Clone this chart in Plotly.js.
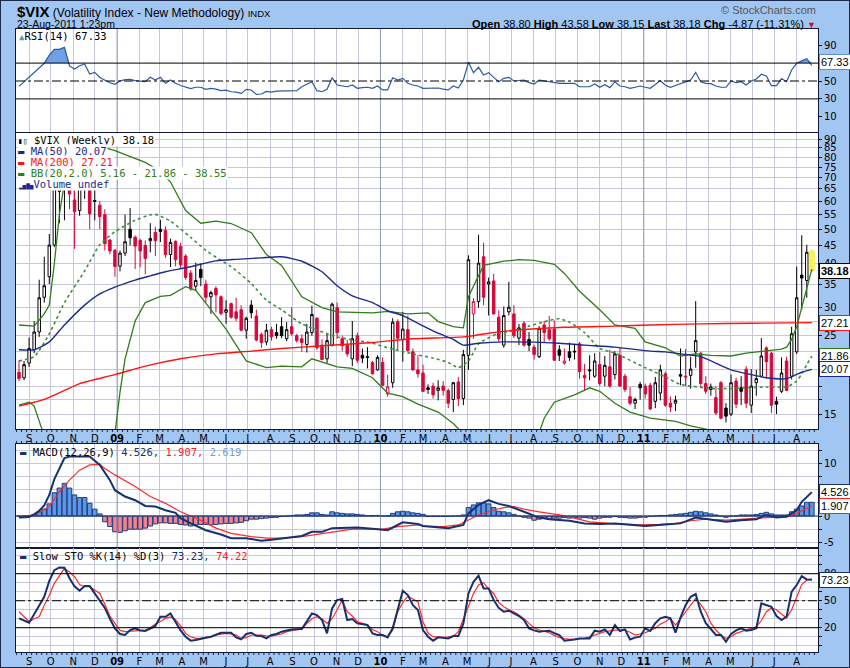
<!DOCTYPE html>
<html><head><meta charset="utf-8">
<script src="https://cdn.plot.ly/plotly-3.0.1.min.js"></script>
<style>html,body{margin:0;padding:0;background:#a2c6f2;}#chart{width:850px;height:668px;}</style>
</head><body><div id="chart"></div>
<script>
// ---------- DATA (weekly bars, first bar = week of 2008-08-18) ----------
const firstWeek = [2008, 7, 18];
const opens = [19.7,19.0,20.9,22.8,25.6,32.1,36.7,45.1,64.0,68.0,
77.0,60.5,56.5,65.0,72.0,60.3,58.5,55.0,46.6,43.6,
39.3,42.8,50.0,47.5,46.5,45.0,46.4,49.0,50.0,49.7,
42.4,46.2,44.7,42.0,37.6,34.5,38.5,35.0,32.2,34.0,
32.2,29.1,30.8,29.2,29.6,25.9,30.5,28.4,25.2,24.0,
26.0,25.5,26.5,24.5,26.5,25.0,24.5,23.6,25.5,28.0,
23.5,21.5,23.5,30.0,24.5,23.5,21.5,25.0,22.0,21.8,
21.0,20.0,21.0,17.1,18.4,27.4,24.4,26.0,22.5,20.0,
19.6,17.8,18.0,17.5,18.0,17.5,16.5,18.5,16.6,22.0,
28.8,31.2,41.8,35.0,35.7,28.2,23.5,29.2,28.8,24.6,
27.1,24.4,23.2,21.8,26.8,26.0,26.1,22.8,20.9,22.5,
22.6,23.7,19.3,20.0,19.2,20.7,19.2,20.4,19.4,22.0,
19.2,16.8,16.1,18.2,18.0,18.1,16.3,17.2,19.5,16.1,
16.1,19.4,19.2,19.3,22.5,22.3,18.3,17.6,16.7,18.4,
15.6,15.0,18.6,17.8,20.1,15.9,18.4,19.2,23.1,22.3,
16.3,17.4,21.2,19.2,22.5,37.1,35.8,38.80];
const highs = [21.3,21.2,24.7,27.5,36.0,41.8,48.5,76.9,81.2,89.5,
86.0,66.0,68.4,81.5,73.0,68.0,60.0,57.0,47.0,44.0,
43.5,55.0,57.4,48.0,47.0,46.5,52.0,50.8,53.2,51.0,
47.0,46.5,45.8,42.5,38.3,40.2,40.0,36.0,33.5,34.5,
32.5,31.5,31.0,32.0,30.5,28.3,31.5,29.6,25.5,27.0,
26.5,27.0,28.2,27.3,30.1,25.3,25.2,27.0,30.4,28.2,
24.4,25.3,31.0,31.0,25.0,24.3,27.5,25.5,23.0,23.2,
21.2,22.0,21.7,19.4,28.0,27.8,29.2,28.5,23.0,22.0,
20.7,18.2,18.4,18.7,18.6,17.7,18.5,19.1,22.8,42.2,
31.9,48.2,45.8,36.5,37.4,29.5,30.2,35.5,30.5,27.0,
27.5,25.6,23.6,26.6,27.5,28.4,27.6,23.5,23.0,23.9,
23.6,24.0,20.8,22.0,22.3,22.5,21.9,22.8,22.6,23.2,
19.5,17.9,16.7,18.5,18.3,18.4,19.1,20.7,19.8,16.8,
16.9,23.0,22.9,21.8,31.3,22.5,19.2,18.3,18.0,18.6,
16.1,19.4,19.0,19.2,20.5,20.1,20.0,24.6,23.3,22.5,
16.8,21.7,21.8,26.5,39.2,48.1,45.2,43.58];
const lows = [18.6,18.7,20.4,22.3,24.8,31.0,35.0,44.5,52.0,53.0,
57.0,44.0,54.6,61.0,50.0,53.0,50.0,43.5,42.5,36.7,
38.0,42.0,45.0,38.6,39.0,37.3,43.0,42.0,46.0,41.5,
39.1,39.3,38.6,36.0,33.5,33.5,34.5,31.0,28.8,29.1,
28.5,27.0,27.9,27.5,25.7,24.5,28.0,24.1,23.1,23.5,
24.2,24.5,24.6,24.1,25.0,23.9,22.5,22.4,25.0,22.8,
21.3,20.9,23.3,24.5,22.6,21.8,20.5,20.9,20.9,20.2,
19.4,19.9,18.0,16.8,17.8,22.8,21.1,22.5,19.9,19.0,
17.3,17.1,16.6,16.4,16.9,15.6,15.2,15.8,15.9,20.0,
24.5,30.0,30.5,28.5,28.7,24.0,23.1,28.5,24.6,23.5,
23.3,22.6,21.4,21.6,23.9,24.2,21.2,21.2,20.7,21.2,
21.4,18.9,17.5,18.7,19.0,18.0,18.0,17.8,18.8,17.9,
17.3,15.9,15.5,16.5,16.6,15.4,15.6,16.4,15.7,15.2,
15.3,18.1,18.0,17.7,20.3,17.9,17.1,16.9,14.9,14.5,
14.2,14.8,15.6,15.9,15.6,15.1,16.9,19.0,18.9,15.1,
15.0,17.2,17.4,18.8,22.2,29.6,32.0,38.15];
const closes = [18.9,20.7,23.0,25.6,32.0,34.6,45.1,69.9,70.3,79.1,
62.9,56.1,66.3,72.7,55.3,59.9,54.3,45.5,43.4,39.2,
42.8,46.1,47.3,44.8,43.4,41.3,47.1,46.4,49.3,42.4,
45.9,41.0,39.7,36.5,33.9,35.8,36.5,32.1,33.1,32.6,
28.9,29.6,28.2,28.0,25.9,28.0,29.0,24.3,23.9,25.9,
24.8,25.0,25.0,26.0,25.3,24.2,23.9,25.6,28.7,23.1,
21.4,24.2,30.7,25.5,23.4,22.2,24.5,21.3,21.6,21.7,
19.5,21.7,18.1,17.9,27.3,24.6,26.1,22.7,20.0,19.5,
17.4,17.6,17.0,17.8,17.5,16.1,18.4,16.6,22.1,41.0,
31.2,40.1,32.1,35.5,28.8,24.5,28.5,30.1,25.0,26.3,
23.5,23.5,22.1,26.2,25.5,24.5,21.3,22.0,21.2,21.7,
22.5,19.8,19.0,19.9,21.2,18.3,20.6,18.0,22.2,18.0,
17.6,16.1,16.5,17.8,17.1,15.5,18.4,20.0,15.9,15.7,
16.4,19.2,19.1,20.1,24.2,18.3,17.4,17.9,15.1,14.6,
14.8,18.4,16.0,17.4,16.1,18.0,18.9,21.9,21.1,15.9,
16.0,19.6,17.5,25.3,32.0,36.4,43.05,38.18];

// overlays: [week index, value]
const ma50Weeks = [0,3,6,9,13,16,19,23,26,29,33,36,39,43,48,52,56,60,63,66,70,73,76,79,83,86,88,91,96,107,112,118,125,128,131,135,141,145,148,152,155,157];
const ma50 = [22.8,22.8,24.0,26.8,30.5,32.8,34.3,35.9,36.9,37.9,38.9,39.8,40.7,41.1,41.5,41.8,40.6,37.9,34.6,32.4,31.0,29.4,28.5,27.1,25.4,24.4,23.5,23.8,24.0,23.8,23.5,23.2,22.6,22.5,22.2,21.8,20.0,19.4,19.0,18.9,19.7,20.07];
const ma200Weeks = [0,5,9,12,19,25,32,39,46,52,60,70,78,88,93,98,108,118,125,135,145,157];
const ma200 = [15.8,16.5,17.5,18.3,19.4,20.5,21.5,22.2,22.6,23.0,23.4,23.9,24.5,24.8,25.4,25.9,26.4,26.6,26.8,27.0,27.1,27.21];
const bbUpWeeks = [0,3,5,6,7,8,9,10,12,14,19,25,28,30,33,36,39,42,46,49,52,54,56,60,63,70,73,77,81,83,86,88,89,92,96,99,102,106,108,111,115,118,122,124,128,131,134,137,141,144,148,151,152,153,154,155,156,157];
const bbUp = [26.8,26.6,28.8,30.5,40,55,68,78,86,87.5,83.5,77.3,73,68,56.5,52,52.7,51.9,48.9,42.4,39.5,35.5,32.2,30.0,29.2,29.0,29.3,28.8,29.0,27.4,26.5,26.3,32.2,39.5,40.6,41.0,40.8,39.8,37.5,33.4,29.6,26.8,26.2,24.0,23.1,21.9,22.2,22.0,21.9,22.3,22.7,22.9,23.2,24.4,26.5,30.0,34.0,38.55];
const bbMidWeeks = [0,3,6,9,13,16,19,23,26,27,30,34,37,40,42,46,49,52,56,63,70,73,78,82,85,87,89,91,95,98,101,105,107,109,112,115,118,124,128,131,138,144,148,152,154,155,156,157];
const bbMid = [21.2,21.8,25.3,31.0,38.1,45.2,49.2,53.0,54.9,55.1,52.7,47.4,43.6,40.8,39.2,35.1,31.5,29.6,27.0,24.8,23.8,23.1,22.2,21.6,21.0,20.3,21.2,23.7,25.4,25.8,26.6,27.6,27.9,27.3,25.5,23.0,22.3,20.3,19.1,18.2,17.7,17.8,17.9,17.9,18.6,19.5,20.7,21.86];
const bbLowWeeks = [0,2,3,5,6,9,13,17,19,20,21,23,25,28,30,33,35,37,39,41,45,49,52,56,58,63,66,70,73,76,79,83,86,88,92,97,101,103,104,106,110,113,115,118,121,125,130,133,138,142,147,152,157];
const bbLow = [15.9,16.2,15.8,13.0,10.5,6,3.5,6,13.2,17.3,21.5,27.5,31.0,32.3,32.5,34.4,33.6,30.9,28.5,26.1,21.2,20.3,20.5,20.4,21.5,20.4,20.2,19.0,17.2,16.8,16.0,15.2,14.1,13.2,11,9,11,13.2,14.6,16.2,17.0,17.8,17.4,16.1,15.2,14.6,14.3,13.9,13.4,12,11,9,5.16];

// RSI(14), one value per week
const rsi = [44,49,54,60,65,69.8,79,85.4,85.4,87.6,
66.8,63.4,67,69,57.8,59.7,54,51.1,48,46.3,
50,51.5,51.9,50.4,49.5,49.2,54.1,51.1,54.1,47.4,
51.1,47.4,45,43,41.5,43,43,40.7,41.8,41.0,
39.2,39.8,38.0,37.5,36.2,40.7,40.0,35.1,35.5,38.4,
37.5,38.7,39,39.2,39.2,39.2,43.6,46,49.2,39.2,
38.0,40.7,53.7,45.5,44.5,43.6,45.5,41.8,42.5,43.0,
41.8,44.4,40.0,40.0,53.7,51.1,53.0,47.4,45.5,44.4,
41.8,42,42,42.2,41,40.0,44.4,42.2,51.1,70.9,
59.3,65.3,56.7,59.3,54.1,49.2,53.0,54.1,50,50.5,
51.1,48.1,46.6,51.1,50,49.2,48,47.4,47.4,47.4,
47.4,43.6,43.6,43.6,46.6,43.0,45.9,42.6,49.2,44.4,
43.6,41.8,43,44.4,43,41.8,46,50.4,45.2,43.0,
45,47.4,49,51.1,59.7,49.2,47.4,47,44.4,43.0,
43,50,48.1,49.2,45.5,50,52.2,57.5,55.6,44.8,
44.8,52.6,49.2,62.3,69.8,72.5,75.0,67.33];

// MACD(12,26,9)
const macdWeeks = [0,2,3,4,5,6,7,8,9,10,12,14,16,18,19,21,23,25,27,29,31,32,34,37,40,42,45,48,50,53,56,58,60,62,65,67,70,73,76,79,80,83,85,88,89,91,93,95,97,100,103,105,109,112,115,118,121,124,128,131,134,136,140,143,146,148,150,152,154,155,157];
const macdLine = [-0.3,-0.2,0.3,1.0,2.0,4.0,7.0,9.0,11.0,11.3,11.3,11.3,9.7,6.8,4.9,3.7,3.0,1.9,1.8,1.1,0.6,-0.4,-1.4,-2.7,-3.5,-4.2,-4.2,-4.7,-4.5,-4.2,-3.8,-3.0,-3.0,-2.3,-2.3,-2.2,-2.4,-2.7,-1.2,-1.5,-1.9,-2.1,-2.3,-1.7,0.5,2.1,3.0,2.3,1.9,0.8,-0.3,-0.6,-0.9,-1.4,-1.5,-1.4,-1.7,-1.9,-1.6,-1.4,-0.3,-0.6,-1.1,-0.8,-0.6,0.2,-0.3,-0.1,1.1,2.7,4.526];
const signalWeeks = [0,3,6,8,10,12,14,16,17,19,23,26,29,32,36,39,42,46,49,52,56,59,62,66,69,72,75,79,80,84,87,89,91,94,96,98,100,103,107,110,113,117,120,123,127,130,133,136,140,143,146,150,152,154,157];
const signalLine = [-0.2,0.2,1.8,4.6,6.8,8.7,9.7,9.8,9.0,7.8,5.6,3.7,2.4,0.8,-0.8,-2.3,-3.3,-3.9,-4.2,-4.2,-3.9,-3.5,-3.0,-2.5,-2.5,-2.5,-2.0,-1.7,-1.9,-2.0,-1.7,-0.8,0.2,1.1,1.6,1.8,1.3,0.8,0.2,-0.4,-1.1,-1.4,-1.5,-1.7,-1.6,-1.4,-0.9,-0.6,-0.8,-0.6,-0.4,-0.2,-0.2,0.5,1.907];
const macdHist = [0,0,0.1,0.3,0.8,1.3,2.3,4.4,5.3,6.2,
5.3,4.0,3.5,3.5,2.4,1.3,0.4,-1.1,-2.0,-3.0,
-3.1,-2.8,-2.5,-2.5,-2.5,-2.3,-1.9,-1.5,-1.3,-1.3,
-1.4,-1.4,-1.6,-1.7,-1.9,-1.7,-1.6,-1.6,-1.7,-1.6,
-1.5,-1.4,-1.4,-1.3,-1.2,-0.9,-0.6,-0.6,-0.5,-0.4,
-0.3,-0.25,-0.1,0,0.1,0.2,0.2,0.3,0.6,0.6,
0.3,0.2,0.8,0.6,0.5,0.4,0.4,0.3,0.2,0.05,
0.1,0.1,0,0.05,0.5,0.8,0.9,0.8,0.6,0.5,
0.3,-0.1,-0.1,-0.1,-0.1,-0.1,0,0,0.2,1.6,
2.1,2.5,2.5,2.3,1.6,0.9,0.8,0.6,0.3,0,
-0.25,-0.4,-0.8,-0.6,-0.4,-0.6,-0.4,-0.4,-0.3,-0.4,
-0.3,-0.4,-0.3,-0.4,-0.6,-0.4,-0.25,-0.25,-0.1,-0.25,
-0.3,-0.4,-0.4,-0.25,-0.25,-0.1,0,0.1,0.1,0.2,
0.3,0.4,0.5,0.7,0.9,0.8,0.6,0.4,0.2,0,
-0.25,0,0,0.2,0.2,0.2,0.3,0.5,0.7,0.4,
0.2,0.2,0.2,0.8,1.3,1.9,2.6,2.6];

// Slow Stochastic %K(14) %D(3)
const stoK = [30.4,28,25.6,35,45,54.4,72,84,87,86.7,
75,66,61.1,66.3,66.3,58,50,42,30,19.3,
13,11.9,17.4,19.3,17,16.3,19,22,32.2,32.2,
35.9,26.7,17,10,5.6,6.3,8,8.9,10,12,
14.4,14.4,14.4,9.3,7.0,13,14.4,11,10.7,8.1,
12,13,15.6,17,18.1,18.3,18.5,27,35.9,34.1,
28.5,13.7,41.5,50.7,51.9,28.5,29.6,24.8,24,23,
13.7,12,11.9,9.3,19.3,40,61.1,56.3,45,39.6,
17.4,10,5.6,9.3,8.5,8.1,10.7,10.7,24.8,58.1,
71.1,77.8,63.7,63.7,50.7,42,37.8,38.9,36,33,
28.5,19.3,17,15.6,16.2,16.7,14,11.9,5.6,6,
7,8,8.1,8.1,16.7,15.6,18.1,11.9,23,16.3,
18.1,7,9,10,19.3,16.3,25,30.4,32.2,30.4,
14.4,31.5,45,54.4,57.4,37.8,25,18.1,12,11.9,
4.4,13,17,19.3,16.7,17.5,19.3,47,45,43.3,
33,28.5,32.2,60,67.4,77.4,73.7,73.23];
const stoD = [37.8,32,26.7,30,32.2,45,56,69.3,78,85.9,
82,76.7,68,65.6,65.6,62,58.1,46,33,24.8,
17,15.6,16,16.7,17.5,17.4,20,24.1,27,30.4,
32,29,22,13.7,10,8.1,8.5,9.3,10,11.9,
12.5,13.7,13,11.9,8.1,9,11.9,12,11.9,11,
10.7,12,13,15.6,16.5,17.4,19,24.8,30,32.2,
30,24.8,30,40,50.7,37.8,33,26.7,24.5,23,
18,15.6,12,10,17.4,37.8,48,55.3,52,48.9,
26.7,14,10,9.5,9.3,9.8,10.7,15.6,30,43.3,
58,67.4,70,63,58.1,48,43.3,40,37.8,34.1,
30,24.8,20,17.4,16,14.4,11.5,9.3,8,7,
7.2,7.6,8.1,10,11.9,13.7,15.6,16.5,17.4,17.4,
17.4,15,11.9,13,14.4,17,19.3,24,26.7,30.4,
23,30,37.8,46,52.6,46,37.8,25,17.4,12,
8.1,10,13.7,15.6,17.4,19,21.1,28,37.8,42,
40,35,31,40,53,68,73,74.22];

const monthLetters = ['09','F','M','A','M','J','J','A','S','O','N','D'];
const yearStarts = ['2009-01-01', '2010-01-01', '2011-01-01'];
const rsiTicks = [10, 30, 50, 90];

// ---------- helpers ----------
const DAY = 86400000;
const t0 = Date.UTC(firstWeek[0], firstWeek[1], firstWeek[2]);
const wk = i => new Date(t0 + i * 7 * DAY).toISOString().slice(0, 19).replace('T', ' ');
const n = closes.length;
const dates = closes.map((_, i) => wk(i));
const last = n - 1;
const W = 850, H = 668;
const px = x => x / W, py = y => 1 - y / H;

const RED = '#d6083b', NAVY = '#17306e', MA50C = '#1a2a8c', MA200C = '#ff1212', BBC = '#2f7d1a', GRID = '#c6c8da', YEAR = '#929cb8', BORDER = '#10183a';
const MONO = 'DejaVu Sans Mono', SANS = 'DejaVu Sans', ARIAL = 'Liberation Sans, Arial';

const R = {y: [13.61, 93.6], y2: [-6.98, 108.1], y3: [-6.07, 13.66], y4: [-7.0, 108.6]};
const DOM = {y: [429, 133], y2: [132, 29], y3: [548, 444], y4: [652, 548]};

const groups = {hb: [], hr: [], fb: [], fr: []};
for (let i = 0; i < n; i++) {
  const pc = i ? closes[i - 1] : opens[i];
  const key = (closes[i] > opens[i] ? 'h' : 'f') + (closes[i] < pc ? 'r' : 'b');
  groups[key].push(i);
}
function candle(idx, lc, fc) {
  const st = {line: {color: lc, width: 1}, fillcolor: fc};
  return {type: 'candlestick', xaxis: 'x', yaxis: 'y', x: idx.map(i => dates[i]),
    open: idx.map(i => opens[i]), high: idx.map(i => highs[i]), low: idx.map(i => lows[i]), close: idx.map(i => closes[i]),
    increasing: st, decreasing: st, whiskerwidth: 0, hoverinfo: 'skip', showlegend: false};
}
function line(ws, vs, xa, ya, color, width, dash, shape) {
  return {type: 'scatter', mode: 'lines', x: ws.map(wk), y: vs, xaxis: xa, yaxis: ya,
    line: {color: color, width: width, dash: dash || 'solid', shape: shape || 'linear', smoothing: 0.6}, hoverinfo: 'skip', showlegend: false};
}
const allWeeks = closes.map((_, i) => i);

const traces = [];
[['x', 'y'], ['x2', 'y2'], ['x3', 'y3'], ['x4', 'y4']].forEach(([xa, ya]) => {
  yearStarts.forEach(d => traces.push({type: 'scatter', mode: 'lines', x: [d, d], y: R[ya], xaxis: xa, yaxis: ya,
    line: {color: YEAR, width: 1}, hoverinfo: 'skip', showlegend: false}));
});
traces.push({type: 'scatter', mode: 'lines', xaxis: 'x', yaxis: 'y',
  x: [wk(last - 0.6), wk(last + 0.6), wk(last + 0.6), wk(last - 0.6), wk(last - 0.6)],
  y: [lows[last], lows[last], highs[last], highs[last], lows[last]],
  fill: 'toself', fillcolor: '#f6f35a', line: {width: 0}, hoverinfo: 'skip', showlegend: false});
traces.push(
  candle(groups.hb, '#000', '#fff'),
  candle(groups.hr, RED, '#fff'),
  candle(groups.fb, '#000', '#000'),
  candle(groups.fr, RED, RED),
  line(bbUpWeeks, bbUp, 'x', 'y', BBC, 1.3),
  line(bbLowWeeks, bbLow, 'x', 'y', BBC, 1.3),
  line(bbMidWeeks, bbMid, 'x', 'y', '#3d8f3d', 1.6, 'dot', 'spline'),
  line(ma200Weeks, ma200, 'x', 'y', MA200C, 1.4, 'solid', 'spline'),
  line(ma50Weeks, ma50, 'x', 'y', MA50C, 1.4, 'solid', 'spline'),
  {type: 'scatter', mode: 'lines', x: allWeeks.map(wk), y: rsi.map(() => 70), xaxis: 'x2', yaxis: 'y2', line: {width: 0}, hoverinfo: 'skip', showlegend: false},
  {type: 'scatter', mode: 'lines', x: allWeeks.map(wk), y: rsi.map(v => Math.max(v, 70)), xaxis: 'x2', yaxis: 'y2', line: {width: 0}, fill: 'tonexty', fillcolor: '#6f9fe4', hoverinfo: 'skip', showlegend: false},
  line(allWeeks, rsi, 'x2', 'y2', '#2b5aa0', 1.2),
  {type: 'bar', x: dates, y: macdHist, xaxis: 'x3', yaxis: 'y3', width: 7 * DAY * 0.9,
    marker: {color: macdHist.map(v => v >= 0 ? '#5b97e6' : '#f4828f'), line: {color: '#1e3c7c', width: 1}}, hoverinfo: 'skip', showlegend: false},
  line(signalWeeks, signalLine, 'x3', 'y3', '#ff2a2a', 1.2),
  line(macdWeeks, macdLine, 'x3', 'y3', NAVY, 2),
  line(allWeeks, stoD, 'x4', 'y4', '#ff2a2a', 1.2),
  line(allWeeks, stoK, 'x4', 'y4', NAVY, 2)
);

const monthVals = [], monthText = [];
for (let y = 2008; y <= 2011; y++) for (let m = 0; m < 12; m++) {
  const t = Date.UTC(y, m, 1);
  if (t < Date.UTC(2008, 8, 1) || t > Date.UTC(2011, 7, 1)) continue;
  monthVals.push(new Date(t).toISOString().slice(0, 10));
  monthText.push(m === 0 ? '<b>' + String(y).slice(2) + '</b>' : monthLetters[m]);
}

const xRange = [wk(-0.594), wk(158.22)];
const xDom = [px(16), px(818)];
const xBase = {type: 'date', range: xRange, domain: xDom, tickmode: 'array', tickvals: monthVals, ticktext: monthText,
  showgrid: true, gridcolor: GRID, gridwidth: 1, showline: true, linecolor: BORDER, linewidth: 1, mirror: true,
  ticks: '', zeroline: false, fixedrange: true, rangeslider: {visible: false},
  tickfont: {family: SANS, size: 10, color: '#000'}};
const yBase = {side: 'right', showline: true, linecolor: BORDER, linewidth: 1, mirror: true, ticks: 'outside', ticklen: 3,
  tickcolor: '#111', zeroline: false, fixedrange: true, tickfont: {family: SANS, size: 10, color: '#000'}, gridcolor: GRID};

const mainGrid = [15, 16.5, 18, 20, 22.5, 25, 27.5, 30, 35, 40, 45, 50, 55, 60, 65, 70, 75, 80, 85, 90];
const mainLab = mainGrid.map(v => (v % 5 === 0 && v !== 20) ? String(v) : '');
const macdGrid = [-5, -2.5, 0, 2.5, 5, 7.5, 10, 12.5];
const macdLab = macdGrid.map(v => v % 5 === 0 ? String(v) : '');
const stoGrid = [0, 10, 20, 30, 40, 50, 60, 70, 80, 90, 100];
const stoLab = stoGrid.map(v => [20, 50, 80].includes(v) ? String(v) : '');

const layout = {
  width: W, height: H, margin: {l: 0, r: 0, t: 0, b: 0},
  paper_bgcolor: '#a2c6f2', plot_bgcolor: '#ffffff', showlegend: false,
  xaxis: Object.assign({}, xBase, {anchor: 'y', showticklabels: true}),
  xaxis2: Object.assign({}, xBase, {anchor: 'y2', showticklabels: false}),
  xaxis3: Object.assign({}, xBase, {anchor: 'y3', showticklabels: false}),
  xaxis4: Object.assign({}, xBase, {anchor: 'y4', showticklabels: true}),
  yaxis: Object.assign({}, yBase, {type: 'log', domain: [py(DOM.y[0]), py(DOM.y[1])], anchor: 'x', range: R.y.map(Math.log10),
    tickmode: 'array', tickvals: mainGrid, ticktext: mainLab, showgrid: true}),
  yaxis2: Object.assign({}, yBase, {domain: [py(DOM.y2[0]), py(DOM.y2[1])], anchor: 'x2', range: R.y2, tickmode: 'array', tickvals: rsiTicks, ticktext: rsiTicks.map(String), showgrid: false}),
  yaxis3: Object.assign({}, yBase, {domain: [py(DOM.y3[0]), py(DOM.y3[1])], anchor: 'x3', range: R.y3, tickmode: 'array', tickvals: macdGrid, ticktext: macdLab, showgrid: true}),
  yaxis4: Object.assign({}, yBase, {domain: [py(DOM.y4[0]), py(DOM.y4[1])], anchor: 'x4', range: R.y4, tickmode: 'array', tickvals: stoGrid, ticktext: stoLab, showgrid: true}),
  shapes: [], annotations: []
};

function hline(ya, v, dash) {
  layout.shapes.push({type: 'line', xref: 'paper', yref: ya, x0: xDom[0], x1: xDom[1], y0: v, y1: v, layer: 'above',
    line: {color: '#000', width: 1, dash: dash || 'solid'}});
}
hline('y2', 70); hline('y2', 30); hline('y2', 50, 'dashdot');
hline('y4', 80); hline('y4', 20); hline('y4', 50, 'dashdot');
layout.shapes.push({type: 'line', xref: 'paper', yref: 'y3', x0: xDom[0], x1: xDom[1], y0: 0, y1: 0, layer: 'above', line: {color: '#1e3c7c', width: 1}});
function weekTicks(yTop, len) {
  for (let i = -0.5; i < 158.2; i += 1) {
    const xx = new Date(t0 + i * 7 * DAY).toISOString();
    layout.shapes.push({type: 'line', xref: 'x', yref: 'paper', x0: xx, x1: xx, y0: py(yTop), y1: py(yTop + len), line: {color: '#1a2550', width: 1}});
  }
}
weekTicks(430, 2); weekTicks(441, 2.5); weekTicks(653, 2);
layout.shapes.push({type: 'rect', xref: 'paper', yref: 'paper', x0: 0, x1: 1, y0: 0, y1: 1, line: {color: '#1b2a4a', width: 2}});

// ---------- text ----------
const A = layout.annotations;
function txt(x, y, text, opts) {
  A.push(Object.assign({xref: 'paper', yref: 'paper', x: px(x), y: py(y), text: text, showarrow: false, xanchor: 'left', yanchor: 'middle',
    font: {family: ARIAL, size: 11, color: '#000'}, borderpad: 0}, opts || {}));
}
const chg = closes[last] - closes[last - 1];
const chgPct = chg / closes[last - 1] * 100;
txt(16, 11, "<span style='font-size:15px;font-weight:bold'>$VIX</span> (Volatility Index - New Methodology) <span style='font-size:9.5px'>INDX</span>", {font: {family: ARIAL, size: 12, color: '#000'}});
txt(16, 24, '23-Aug-2011 1:23pm', {font: {family: ARIAL, size: 10.5, color: '#000'}});
txt(817, 10, '© StockCharts.com', {xanchor: 'right', font: {family: ARIAL, size: 11, color: '#555'}});
txt(817, 24, '<b>Open</b> ' + opens[last].toFixed(2) + ' <b>High</b> ' + highs[last].toFixed(2) + ' <b>Low</b> ' + lows[last].toFixed(2) +
  ' <b>Last</b> ' + closes[last].toFixed(2) + ' <b>Chg</b> ' + chg.toFixed(2) + ' (' + chgPct.toFixed(2) + '%) <span style="color:#c8102e;font-size:9px">▼</span>',
  {xanchor: 'right', font: {family: ARIAL, size: 11, color: '#000'}});

const legFont = c => ({family: MONO, size: 10.5, color: c || '#000'});
txt(18, 36.5, "<span style='color:#5b8fd8;font-size:9px'>▲</span>RSI(14) " + rsi[last].toFixed(2), {font: legFont()});
const lg = {bgcolor: '#ffffff'};
txt(17, 140, "<span style='font-size:8px'>▮▯</span> $VIX (Weekly) " + closes[last].toFixed(2), Object.assign({font: legFont()}, lg));
txt(17, 151.3, '▬ MA(50) ' + ma50[ma50.length - 1].toFixed(2), Object.assign({font: legFont(MA50C)}, lg));
txt(17, 162.3, '▬ MA(200) ' + ma200[ma200.length - 1].toFixed(2), Object.assign({font: legFont(MA200C)}, lg));
txt(17, 173.3, '▬ BB(20,2.0) ' + bbLow[bbLow.length - 1].toFixed(2) + ' - ' + bbMid[bbMid.length - 1].toFixed(2) + ' - ' + bbUp[bbUp.length - 1].toFixed(2), Object.assign({font: legFont(BBC)}, lg));
txt(17, 184, '<span style="font-size:6px">▂▅▇▅</span>Volume undef', Object.assign({font: legFont('#1a2a8c')}, lg));
const mLast = macdLine[macdLine.length - 1], sLast = signalLine[signalLine.length - 1];
txt(19, 451.7, "<span style='color:" + NAVY + "'>▬</span> MACD(12,26,9) <span style='color:" + NAVY + "'>" + mLast.toFixed(3) + ",</span> <span style='color:#ff2020'>" + sLast.toFixed(3) + ",</span> <span style='color:#6fa0e8'>" + (mLast - sLast).toFixed(3) + "</span>", {font: legFont()});
txt(19, 555.7, "<span style='color:" + NAVY + "'>▬</span> Slow STO %K(14) %D(3) <span style='color:" + NAVY + "'>" + stoK[last].toFixed(2) + ",</span> <span style='color:#ff2020'>" + stoD[last].toFixed(2) + "</span>", {font: legFont()});

function box(ya, yv, text, border, bold, shift) {
  A.push({xref: 'paper', yref: ya, x: px(819), y: yv, yshift: shift || 0, xanchor: 'left', yanchor: 'middle', showarrow: false,
    text: bold ? '<b>' + text + '</b>' : text, bgcolor: '#ffffff', bordercolor: border, borderwidth: 1, borderpad: 1,
    font: {family: ARIAL, size: 11, color: '#000'}});
}
box('y2', rsi[last], rsi[last].toFixed(2), '#5b8fd8', false, 3);
box('y', Math.log10(closes[last]), closes[last].toFixed(2), '#000', true);
box('y', Math.log10(ma200[ma200.length - 1]), ma200[ma200.length - 1].toFixed(2), MA200C);
box('y', Math.log10(bbMid[bbMid.length - 1]), bbMid[bbMid.length - 1].toFixed(2), BBC);
box('y', Math.log10(ma50[ma50.length - 1]), ma50[ma50.length - 1].toFixed(2), MA50C);
box('y3', mLast, mLast.toFixed(3), NAVY);
box('y3', sLast, sLast.toFixed(3), '#ff2020');
box('y4', stoK[last], stoK[last].toFixed(2), NAVY);

Plotly.newPlot('chart', traces, layout, {staticPlot: true, displayModeBar: false});
</script>
</body></html>
